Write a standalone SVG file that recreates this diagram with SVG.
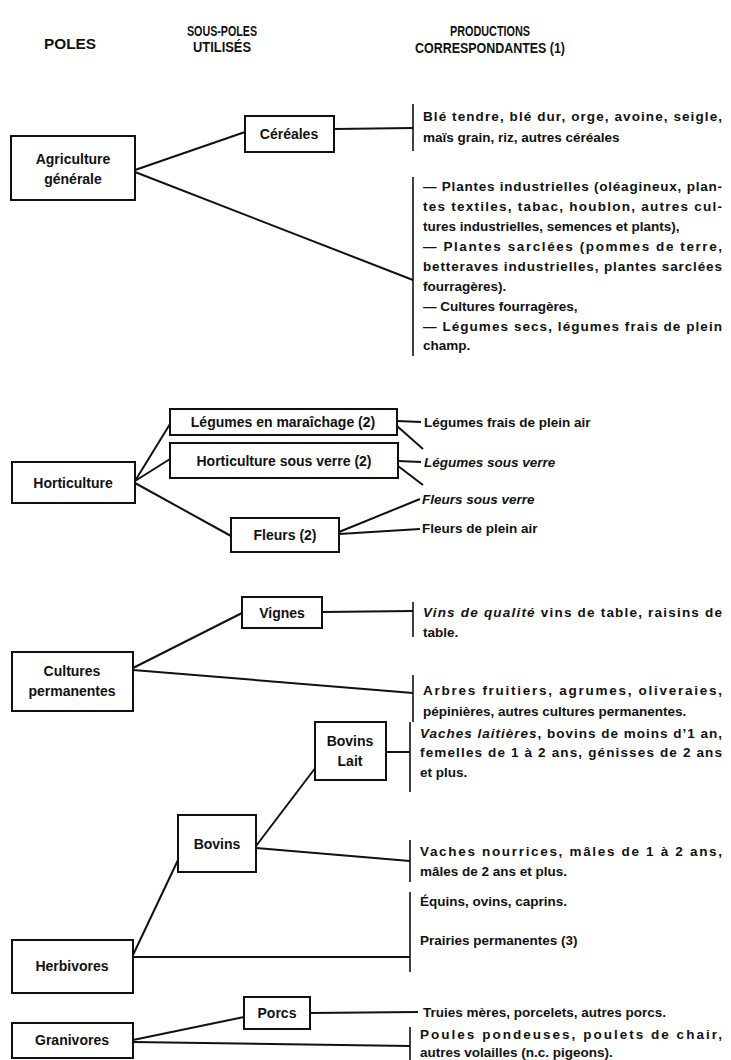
<svg xmlns="http://www.w3.org/2000/svg" width="731" height="1060" viewBox="0 0 731 1060">
<defs>
<style>
text{font-family:"Liberation Sans",Arial,sans-serif;fill:#111;font-weight:bold}
.h{font-size:14px;text-anchor:middle}
.b{font-size:14px;text-anchor:middle}
.t{font-size:13.5px}
.i{font-style:italic}
rect{fill:#fff;stroke:#111;stroke-width:2}
.c line{stroke:#111;stroke-width:2;fill:none}
.c .k{stroke-width:1.6}
</style>
</defs>
<rect x="0" y="0" width="731" height="1060" style="fill:#fff;stroke:none"/>
<g id="header">
<text class="h" x="70" y="49" textLength="52" lengthAdjust="spacingAndGlyphs">POLES</text>
<text class="h" x="222" y="36" textLength="70" lengthAdjust="spacingAndGlyphs">SOUS-POLES</text>
<text class="h" x="222" y="52" textLength="58" lengthAdjust="spacingAndGlyphs">UTILISÉS</text>
<text class="h" x="490" y="36" textLength="80" lengthAdjust="spacingAndGlyphs">PRODUCTIONS</text>
<text class="h" x="490" y="53" textLength="150" lengthAdjust="spacingAndGlyphs">CORRESPONDANTES (1)</text>
</g>
<g id="connectors" class="c">
<line x1="135" y1="170" x2="245" y2="132"/>
<line x1="334" y1="129" x2="413" y2="128"/>
<line x1="135" y1="172" x2="413" y2="280"/>
<line class="k" x1="413" y1="104" x2="413" y2="151"/>
<line class="k" x1="413" y1="177" x2="413" y2="356"/>
<line x1="135" y1="481" x2="170" y2="424"/>
<line x1="135" y1="481" x2="170" y2="459"/>
<line x1="135" y1="483" x2="231" y2="536"/>
<line x1="397" y1="421" x2="421" y2="422"/>
<line x1="397" y1="426" x2="423" y2="449"/>
<line x1="398" y1="461" x2="421" y2="462"/>
<line x1="398" y1="466" x2="423" y2="485"/>
<line x1="339" y1="532" x2="420" y2="499"/>
<line x1="339" y1="534" x2="420" y2="529"/>
<line x1="133" y1="668" x2="242" y2="613"/>
<line x1="322" y1="612" x2="413" y2="611"/>
<line x1="133" y1="670" x2="413" y2="693"/>
<line class="k" x1="413" y1="602" x2="413" y2="637"/>
<line class="k" x1="413" y1="675" x2="413" y2="722"/>
<line x1="386" y1="752" x2="410" y2="752"/>
<line x1="256" y1="846" x2="316" y2="767"/>
<line x1="256" y1="848" x2="410" y2="861"/>
<line x1="133" y1="955" x2="178" y2="860"/>
<line x1="133" y1="957" x2="410" y2="957"/>
<line class="k" x1="410" y1="722" x2="410" y2="792"/>
<line class="k" x1="410" y1="840" x2="410" y2="882"/>
<line class="k" x1="410" y1="892" x2="410" y2="972"/>
<line x1="133" y1="1040" x2="244" y2="1017"/>
<line x1="310" y1="1013" x2="418" y2="1012"/>
<line x1="133" y1="1042" x2="410" y2="1046"/>
<line class="k" x1="410" y1="1027" x2="410" y2="1060"/>
</g>
<g id="agriculture">
<rect x="11" y="136" width="124" height="64"/>
<text class="b" x="73" y="164">Agriculture</text>
<text class="b" x="73" y="184">générale</text>
</g>
<g id="cereales">
<rect x="245" y="116" width="89" height="36"/>
<text class="b" x="289" y="139">Céréales</text>
</g>
<g id="prod-cereales">
<text class="t" x="423" y="121" textLength="299" lengthAdjust="spacing">Blé tendre, blé dur, orge, avoine, seigle,</text>
<text class="t" x="423" y="142">maïs grain, riz, autres céréales</text>
</g>
<g id="prod-agri">
<text class="t" x="423" y="191" textLength="299" lengthAdjust="spacing">— Plantes industrielles (oléagineux, plan-</text>
<text class="t" x="423" y="211" textLength="299" lengthAdjust="spacing">tes textiles, tabac, houblon, autres cul-</text>
<text class="t" x="423" y="231">tures industrielles, semences et plants),</text>
<text class="t" x="423" y="251" textLength="299" lengthAdjust="spacing">— Plantes sarclées (pommes de terre,</text>
<text class="t" x="423" y="271" textLength="299" lengthAdjust="spacing">betteraves industrielles, plantes sarclées</text>
<text class="t" x="423" y="291">fourragères).</text>
<text class="t" x="423" y="311">— Cultures fourragères,</text>
<text class="t" x="423" y="331" textLength="299" lengthAdjust="spacing">— Légumes secs, légumes frais de plein</text>
<text class="t" x="423" y="350">champ.</text>
</g>
<g id="horticulture">
<rect x="12" y="462" width="123" height="41"/>
<text class="b" x="73" y="488">Horticulture</text>
</g>
<g id="legumes-maraichage">
<rect x="170" y="409" width="227" height="26"/>
<text class="b" x="283" y="427">Légumes en maraîchage (2)</text>
</g>
<g id="horti-sous-verre">
<rect x="170" y="443" width="228" height="35"/>
<text class="b" x="284" y="466">Horticulture sous verre (2)</text>
</g>
<g id="fleurs">
<rect x="231" y="518" width="108" height="34"/>
<text class="b" x="285" y="540">Fleurs (2)</text>
</g>
<g id="prod-horti">
<text class="t" x="424" y="427">Légumes frais de plein air</text>
<text class="t i" x="424" y="467">Légumes sous verre</text>
<text class="t i" x="422" y="504">Fleurs sous verre</text>
<text class="t" x="422" y="533">Fleurs de plein air</text>
</g>
<g id="cultures-permanentes">
<rect x="12" y="652" width="121" height="59"/>
<text class="b" x="72" y="676">Cultures</text>
<text class="b" x="72" y="696">permanentes</text>
</g>
<g id="vignes">
<rect x="242" y="597" width="80" height="31"/>
<text class="b" x="282" y="618">Vignes</text>
</g>
<g id="prod-cultures">
<text class="t" x="423" y="617" textLength="299" lengthAdjust="spacing"><tspan class="i">Vins de qualité</tspan>  vins de table, raisins de</text>
<text class="t" x="423" y="637">table.</text>
<text class="t" x="423" y="695" textLength="299" lengthAdjust="spacing">Arbres fruitiers, agrumes, oliveraies,</text>
<text class="t" x="423" y="716">pépinières, autres cultures permanentes.</text>
</g>
<g id="bovins-lait">
<rect x="315" y="722" width="71" height="58"/>
<text class="b" x="350" y="746">Bovins</text>
<text class="b" x="350" y="766">Lait</text>
</g>
<g id="bovins">
<rect x="178" y="815" width="78" height="57"/>
<text class="b" x="217" y="849">Bovins</text>
</g>
<g id="herbivores">
<rect x="12" y="940" width="121" height="53"/>
<text class="b" x="72" y="971">Herbivores</text>
</g>
<g id="prod-herbivores">
<text class="t" x="420" y="738" textLength="302" lengthAdjust="spacing"><tspan class="i">Vaches laitières</tspan>, bovins de moins d’1 an,</text>
<text class="t" x="420" y="757" textLength="302" lengthAdjust="spacing">femelles de 1 à 2 ans, génisses de 2 ans</text>
<text class="t" x="420" y="777">et plus.</text>
<text class="t" x="420" y="856" textLength="302" lengthAdjust="spacing">Vaches nourrices, mâles de 1 à 2 ans,</text>
<text class="t" x="420" y="876">mâles de 2 ans et plus.</text>
<text class="t" x="420" y="906">Équins, ovins, caprins.</text>
<text class="t" x="420" y="945">Prairies permanentes (3)</text>
</g>
<g id="porcs">
<rect x="244" y="997" width="66" height="32"/>
<text class="b" x="277" y="1018">Porcs</text>
</g>
<g id="granivores">
<rect x="12" y="1023" width="121" height="35"/>
<text class="b" x="72" y="1045">Granivores</text>
</g>
<g id="prod-granivores">
<text class="t" x="423" y="1017">Truies mères, porcelets, autres porcs.</text>
<text class="t" x="420" y="1039" textLength="302" lengthAdjust="spacing">Poules pondeuses, poulets de chair,</text>
<text class="t" x="420" y="1057">autres volailles (n.c. pigeons).</text>
</g>
</svg>
